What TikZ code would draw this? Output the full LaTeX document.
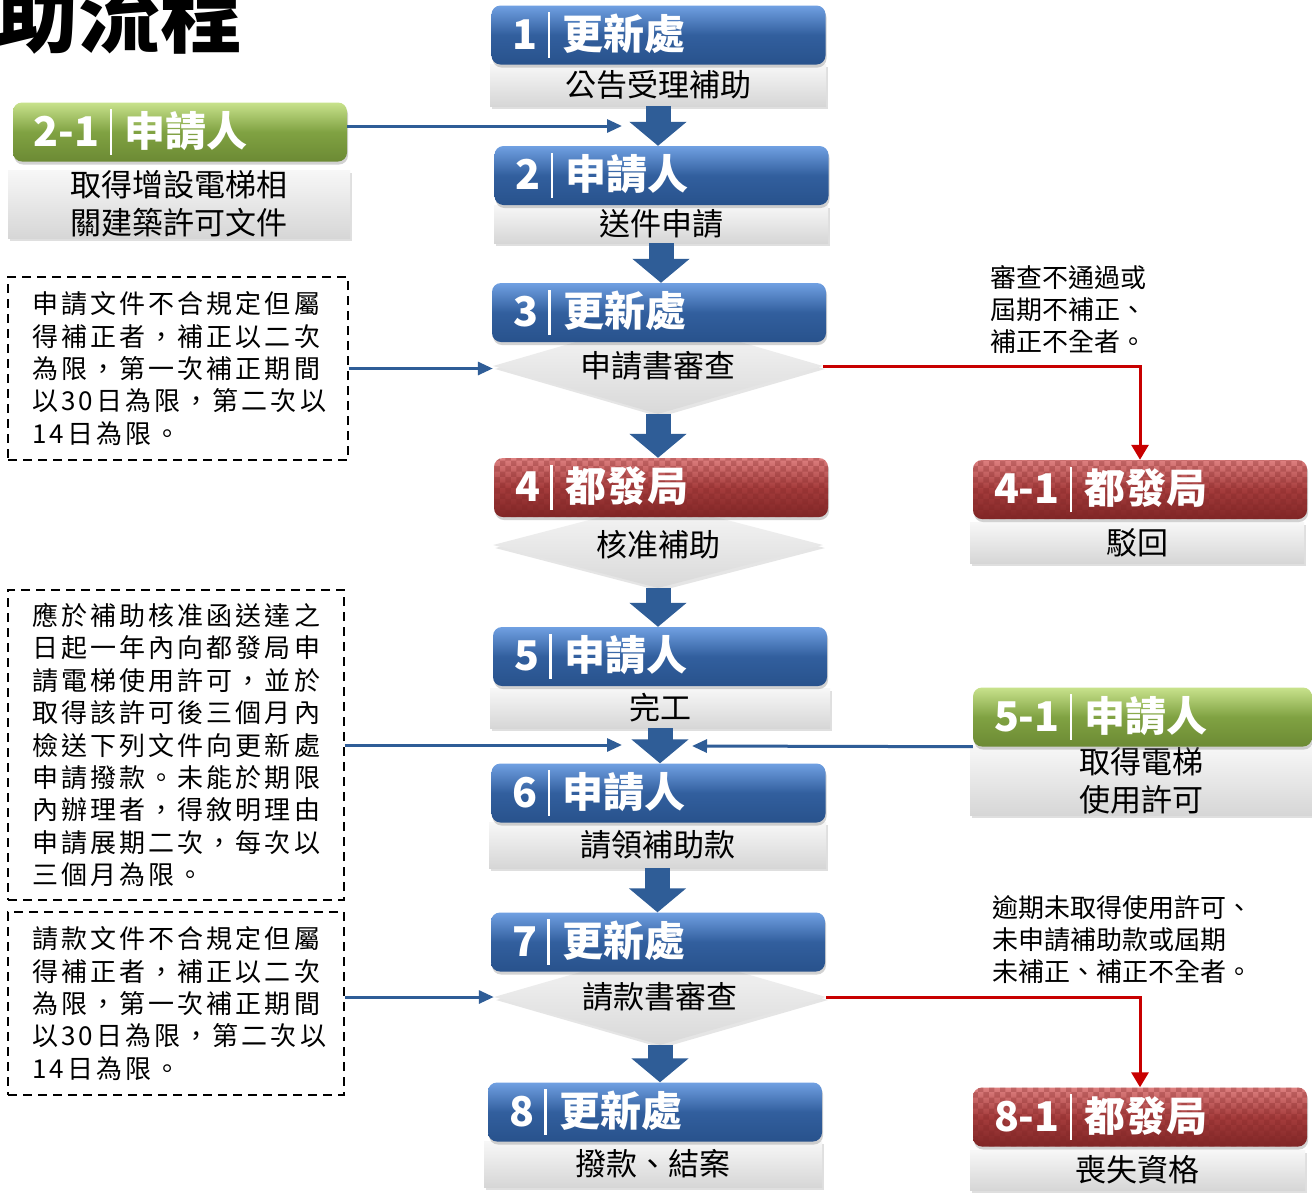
\documentclass[tikz,border=0pt]{standalone}
\usepackage{fontspec}
\setmainfont{Noto Sans CJK TC}
\newfontfamily\notefont[LetterSpace=12]{Noto Sans CJK TC}
\usetikzlibrary{shapes.geometric,arrows.meta,shadows,patterns}

\definecolor{bluetop}{RGB}{112,160,226}
\definecolor{bluemid}{RGB}{50,95,158}
\definecolor{bluebot}{RGB}{40,82,140}
\definecolor{redtop}{RGB}{222,128,128}
\definecolor{redmid}{RGB}{165,60,60}
\definecolor{redbot}{RGB}{128,38,38}
\definecolor{greentop}{RGB}{200,226,140}
\definecolor{greenmid}{RGB}{128,162,66}
\definecolor{greenbot}{RGB}{108,138,52}
\definecolor{flowblue}{RGB}{47,93,151}
\definecolor{flowred}{RGB}{200,0,0}

\newcommand{\steplabel}[2]{#1\hspace{0.25em}\rule[-0.2em]{2.5pt}{1.1em}\hspace{0.3em}#2}

\tikzset{
  head/.style={rectangle, rounded corners=9pt, text=white, font=\fontsize{41}{41}\selectfont\bfseries,
    inner xsep=21pt, text width=292pt, align=left, minimum height=59pt,
    drop shadow={opacity=0.35,shadow xshift=1pt,shadow yshift=-3pt}},
  bluehead/.style={head, top color=bluetop, bottom color=bluebot, middle color=bluemid},
  redhead/.style={head, top color=redtop, bottom color=redbot, middle color=redmid,
    postaction={pattern=checkerboard, pattern color=redbot, opacity=0.3}},
  greenhead/.style={head, top color=greentop, bottom color=greenbot, middle color=greenmid},
  graybox/.style={rectangle, top color=gray!6, bottom color=gray!32, inner sep=0pt,
    font=\fontsize{31}{38}\selectfont, align=center,
    drop shadow={opacity=0.25,shadow xshift=2pt,shadow yshift=-3pt}},
  graydiamond/.style={diamond, aspect=3.45, top color=gray!6, bottom color=gray!30, inner sep=0pt,
    font=\fontsize{31}{38}\selectfont,
    drop shadow={opacity=0.2,shadow xshift=2pt,shadow yshift=-3pt}},
  notebox/.style={draw, line width=1.8pt, dash pattern=on 9pt off 6pt,
    font={\notefont\fontsize{26}{32.4}\selectfont}, align=left,
    inner xsep=24pt, text width=292pt},
  sidenote/.style={anchor=west, inner sep=0pt, align=left, font=\fontsize{26}{32}\selectfont},
  bigarrow/.style={draw=flowblue, line width=25pt, -{Triangle[width=56pt,length=24pt]}},
  bluearrow/.style={draw=flowblue, line width=3pt, -{Triangle[width=13pt,length=15pt]}},
  redarrow/.style={draw=flowred, line width=3pt, -{Triangle[width=17pt,length=15pt]}}
}

\begin{document}
\begin{tikzpicture}[x=1pt,y=-1pt]
  \fill[white] (0,0) rectangle (1312,1192);
  \useasboundingbox (0,0) rectangle (1312,1192);
  \node[anchor=base west, inner sep=0pt, font=\fontsize{82}{82}\selectfont\bfseries] (title) at (-4,46) {助流程};

  % gray parts under the headers
  \node[graybox, minimum width=336pt, minimum height=42pt] (s1) at (658,85) {公告受理補助};
  \node[graybox, minimum width=334pt, minimum height=38pt] (s2) at (661,224) {送件申請};
  \node[graydiamond, minimum width=330pt, minimum height=96pt] (d3) at (658,366) {申請書審查};
  \node[graydiamond, minimum width=330pt, minimum height=86pt] (d4) at (658,545) {核准補助};
  \node[graybox, minimum width=340pt, minimum height=40pt] (s5) at (660,708) {完工};
  \node[graybox, minimum width=337pt, minimum height=46pt] (s6) at (657.5,845) {請領補助款};
  \node[graydiamond, minimum width=332pt, minimum height=96pt] (d7) at (660,997) {請款書審查};
  \node[graybox, minimum width=338pt, minimum height=46pt] (s8) at (653,1164) {撥款、結案};
  \node[graybox, minimum width=342pt, minimum height=68pt] (s21) at (179,204) {取得增設電梯相\\關建築許可文件};
  \node[graybox, minimum width=334pt, minimum height=41pt] (s41) at (1137,542.5) {駁回};
  \node[graybox, minimum width=342pt, minimum height=69pt] (s51) at (1141,780.5) {取得電梯\\使用許可};
  \node[graybox, minimum width=335pt, minimum height=40pt] (s81) at (1137.5,1170) {喪失資格};

  % headers
  \node[bluehead] (h1) at (658.5,35) {\steplabel{1}{更新處}};
  \node[bluehead] (h2) at (661.5,175.5) {\steplabel{2}{申請人}};
  \node[bluehead] (h3) at (659,312.5) {\steplabel{3}{更新處}};
  \node[redhead] (h4) at (661,487.5) {\steplabel{4}{都發局}};
  \node[bluehead] (h5) at (660,656.5) {\steplabel{5}{申請人}};
  \node[bluehead] (h6) at (658.5,793) {\steplabel{6}{申請人}};
  \node[bluehead] (h7) at (658,942) {\steplabel{7}{更新處}};
  \node[bluehead] (h8) at (655,1112) {\steplabel{8}{更新處}};
  \node[greenhead] (h21) at (180,132) {\steplabel{2-1}{申請人}};
  \node[redhead] (h41) at (1140,489.5) {\steplabel{4-1}{都發局}};
  \node[greenhead, text width=297pt] (h51) at (1142.5,717) {\steplabel{5-1}{申請人}};
  \node[redhead] (h81) at (1140,1117) {\steplabel{8-1}{都發局}};

  % notes
  \node[notebox, minimum height=183pt] (n1) at (178,368.5) {申請文件不合規定但屬\\得補正者，補正以二次\\為限，第一次補正期間\\以30日為限，第二次以\\14日為限。};
  \node[notebox, text width=288pt, minimum height=310pt] (n2) at (176,745) {應於補助核准函送達之\\日起一年內向都發局申\\請電梯使用許可，並於\\取得該許可後三個月內\\檢送下列文件向更新處\\申請撥款。未能於期限\\內辦理者，得敘明理由\\申請展期二次，每次以\\三個月為限。};
  \node[notebox, text width=288pt, minimum height=183pt] (n3) at (176,1003.5) {請款文件不合規定但屬\\得補正者，補正以二次\\為限，第一次補正期間\\以30日為限，第二次以\\14日為限。};
  \node[sidenote] (t3) at (990,310) {審查不通過或\\屆期不補正、\\補正不全者。};
  \node[sidenote] (t7) at (992,940) {逾期未取得使用許可、\\未申請補助款或屆期\\未補正、補正不全者。};

  % main flow
  \draw[bigarrow] (s1.south) -- (s1.south |- h2.north);
  \draw[bigarrow] (s2.south) -- (s2.south |- h3.north);
  \draw[bigarrow] (d3.south) -- (d3.south |- h4.north);
  \draw[bigarrow] (d4.south) -- (d4.south |- h5.north);
  \draw[bigarrow] (s5.south) -- (s5.south |- h6.north);
  \draw[bigarrow] (s6.south) -- (s6.south |- h7.north);
  \draw[bigarrow] (d7.south) -- (d7.south |- h8.north);

  % side inputs
  \coordinate (in2) at (622,126);
  \coordinate (in6l) at (622,745);
  \coordinate (in6r) at (692,746);
  \draw[bluearrow] (h21.east |- in2) -- (in2);
  \draw[bluearrow] (n1.east) -- (n1.east -| d3.west);
  \draw[bluearrow] (n2.east) -- (in6l);
  \draw[bluearrow] (h51.south west) -- (in6r);
  \draw[bluearrow] (n3.east |- d7.west) -- (d7.west);

  % rejections
  \draw[redarrow] (d3.east) -| (h41.north);
  \draw[redarrow] (d7.east) -| (h81.north);
\end{tikzpicture}
\end{document}
